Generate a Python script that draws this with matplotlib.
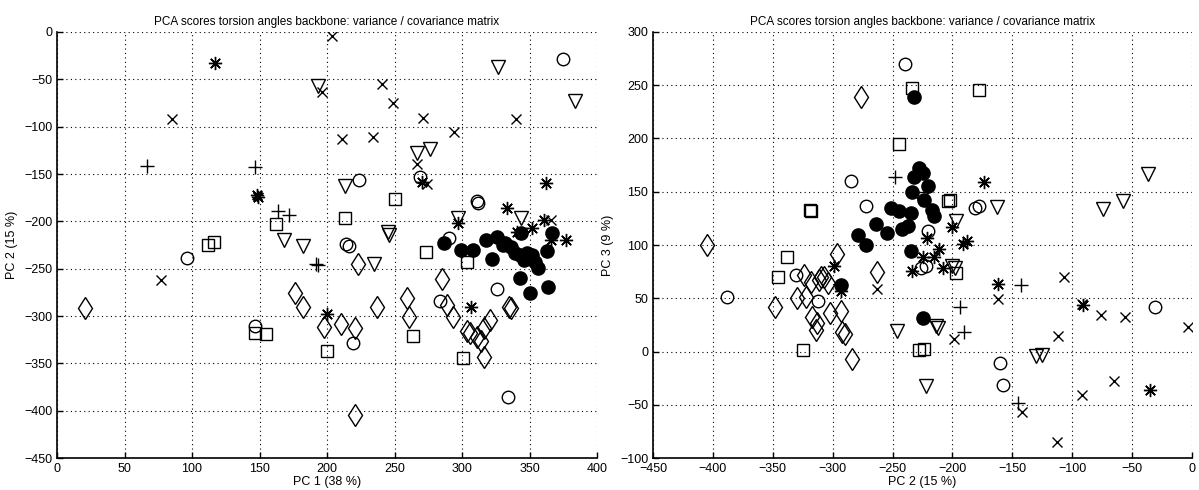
import matplotlib
matplotlib.use("Agg")
import matplotlib.pyplot as plt

plt.rcParams['font.family'] = ['Liberation Sans', 'DejaVu Sans']

title = "PCA scores torsion angles backbone: variance / covariance matrix"

# ---- PC1 vs PC2 scores, one pair of lists per symbol ----
circ_pc1 = [375, 224, 269, 311, 312, 214, 216, 290, 96, 326, 284, 147, 219, 334]
circ_pc2 = [-28, -156, -153, -179, -181, -224, -226, -218, -239, -271, -284, -311, -329, -386]

sq_pc1 = [112, 116, 162, 213, 250, 273, 304, 147, 155, 200, 264, 301]
sq_pc2 = [-225, -222, -203, -196, -176, -232, -243, -318, -319, -337, -321, -344]

dia_pc1 = [21, 223, 285, 176, 182, 237, 259, 261, 289, 293, 335, 336, 198, 210, 221,
           306, 311, 314, 316, 321, 316, 221, 304]
dia_pc2 = [-292, -245, -261, -276, -291, -290, -281, -301, -288, -301, -290, -292, -312, -308, -313,
           -318, -322, -326, -313, -304, -343, -405, -316]

tri_pc1 = [193, 327, 384, 267, 276, 213, 297, 344, 245, 246, 168, 182, 235]
tri_pc2 = [-57, -37, -73, -128, -124, -163, -196, -197, -211, -214, -220, -226, -245]

x_pc1 = [204, 196, 241, 249, 271, 294, 211, 234, 85, 340, 267, 274, 77, 366]
x_pc2 = [-4, -63, -55, -75, -91, -106, -113, -111, -92, -92, -139, -161, -262, -199]

plus_pc1 = [67, 147, 164, 172, 192, 193]
plus_pc2 = [-142, -143, -189, -193, -245, -246]

ast_pc1 = [117, 148, 149, 200, 270, 307, 297, 333, 362, 361, 341, 352, 366, 377]
ast_pc2 = [-33, -172, -174, -298, -158, -291, -202, -186, -159, -199, -211, -207, -220, -220]

dot_pc1 = [287, 299, 308, 318, 326, 332, 336, 339, 343, 348, 352, 354, 356, 322, 343,
           350, 364, 363, 367, 344, 330, 346]
dot_pc2 = [-223, -230, -230, -220, -217, -223, -227, -233, -236, -233, -236, -243, -249, -240, -260,
           -276, -269, -231, -212, -212, -225, -241]

# ---- PC2 vs PC3 scores ----
circ_b2 = [-240, -285, -272, -220, -181, -178, -226, -222, -331, -388, -312, -160, -158, -31]
circ_b3 = [270, 160, 137, 113, 135, 137, 78, 80, 72, 51, 47, -11, -31, 42]

sq_b2 = [-234, -178, -245, -319, -318, -204, -202, -338, -346, -197, -228, -224, -325]
sq_b3 = [247, 246, 195, 133, 132, 141, 142, 89, 70, 74, 1, 2, 1]

dia_b2 = [-405, -276, -348, -324, -318, -310, -304, -296, -263, -330, -322, -317, -313, -314,
          -302, -293, -292, -290, -284, -311, -307]
dia_b3 = [100, 239, 42, 72, 65, 70, 64, 92, 75, 50, 51, 32, 27, 20,
          36, 38, 18, 16, -7, 67, 70]

tri_b2 = [-226, -197, -163, -37, -74, -58, -200, -198, -246, -214, -212, -130, -125, -222]
tri_b3 = [143, 123, 136, 167, 134, 141, 80, 78, 19, 24, 22, -4, -3, -32]

x_b2 = [-263, -199, -162, -107, -92, -76, -56, -3, -112, -142, -65, -92, -113]
x_b3 = [59, 12, 49, 70, 45, 34, 32, 23, 15, -57, -28, -41, -85]

plus_b2 = [-248, -194, -190, -143, -145]
plus_b3 = [164, 42, 18, 62, -48]

ast_b2 = [-299, -293, -234, -225, -215, -211, -208, -191, -221, -200, -188, -174, -162, -91, -35]
ast_b3 = [80, 57, 76, 89, 89, 96, 78, 101, 107, 117, 104, 159, 63, 44, -36]

dot_b2 = [-228, -225, -232, -234, -220, -224, -217, -215, -251, -245, -235, -237, -242, -255,
          -264, -279, -272, -235, -232, -225, -293]
dot_b3 = [172, 168, 164, 150, 155, 142, 133, 127, 135, 132, 130, 118, 115, 111,
          120, 109, 100, 94, 239, 31, 62]

asterisk = (8, 2, 0)
open_kw = dict(linestyle='none', markerfacecolor='none', markeredgecolor='k', markeredgewidth=1.0)


def scores(ax, groups):
    circ, sq, dia, tri, xx, plus, ast, dot = groups
    ax.plot(*circ, marker='o', markersize=9, **open_kw)
    ax.plot(*sq, marker='s', markersize=8, **open_kw)
    ax.plot(*dia, marker='d', markersize=11.5, **open_kw)
    ax.plot(*tri, marker='v', markersize=10, **open_kw)
    ax.plot(*xx, marker='x', markersize=7, **open_kw)
    ax.plot(*plus, marker='+', markersize=10, **open_kw)
    ax.plot(*ast, marker=asterisk, markersize=9.5, **open_kw)
    ax.plot(*dot, marker='o', markersize=9.5, linestyle='none', color='k')


def style(ax, xlim, ylim):
    ax.set_xlim(*xlim)
    ax.set_ylim(*ylim)
    ax.set_xticks(range(xlim[0], xlim[1] + 1, 50))
    ax.set_yticks(range(ylim[0], ylim[1] + 1, 50))
    ax.grid(True, color='k', linestyle=(0, (1, 3)), linewidth=0.8)
    ax.set_axisbelow(True)
    for s in ('top', 'right'):
        ax.spines[s].set_visible(False)
    for s in ('left', 'bottom'):
        ax.spines[s].set_linewidth(1.2)
    ax.tick_params(direction='in', length=4, labelsize=9, width=1)
    ax.set_title(title, fontsize=8.5, pad=5)


fig = plt.figure(figsize=(11.99, 4.90), dpi=100)
W, H = 1199, 490

ax1 = fig.add_axes([57 / W, (H - 458) / H, 540 / W, 426 / H])
scores(ax1, [(circ_pc1, circ_pc2), (sq_pc1, sq_pc2), (dia_pc1, dia_pc2), (tri_pc1, tri_pc2),
             (x_pc1, x_pc2), (plus_pc1, plus_pc2), (ast_pc1, ast_pc2), (dot_pc1, dot_pc2)])
style(ax1, (0, 400), (-450, 0))
ax1.set_xlabel("PC 1 (38 %)", fontsize=9, labelpad=1)
ax1.set_ylabel("PC 2 (15 %)", fontsize=9, labelpad=4)

ax2 = fig.add_axes([653 / W, (H - 458) / H, 539 / W, 426 / H])
scores(ax2, [(circ_b2, circ_b3), (sq_b2, sq_b3), (dia_b2, dia_b3), (tri_b2, tri_b3),
             (x_b2, x_b3), (plus_b2, plus_b3), (ast_b2, ast_b3), (dot_b2, dot_b3)])
style(ax2, (-450, 0), (-100, 300))
ax2.set_xlabel("PC 2 (15 %)", fontsize=9, labelpad=1)
ax2.set_ylabel("PC 3 (9 %)", fontsize=9, labelpad=4)

fig.savefig("out.png", dpi=100)
